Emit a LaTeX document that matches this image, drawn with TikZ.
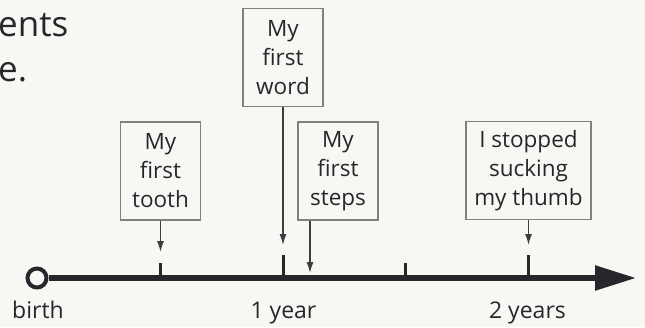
\documentclass[tikz,border=0pt]{standalone}
\usepackage{fontspec}
\setmainfont{Open Sans}
\usepackage{xcolor}
\usepackage{tikz}
\usetikzlibrary{arrows.meta}
\definecolor{paper}{HTML}{F8F7F4}
\definecolor{ink}{HTML}{26272B}
\definecolor{frame}{HTML}{808080}

\begin{document}
\begin{tikzpicture}[
    x=1pt, y=-1pt,
    font=\fontsize{22.5}{29}\selectfont, text=ink,
    event/.style={draw=frame, line width=1.8pt, fill=paper, align=center,
                  minimum width=80pt, minimum height=98pt, inner xsep=8pt},
    caption/.style={anchor=base west, inner sep=0pt, font=\fontsize{35}{45}\selectfont},
    pointer/.style={-{Latex[length=11pt,width=7pt]}, line width=1.4pt, ink!90},
    axis/.style={-{Triangle[length=41pt,width=24pt]}, line width=5.5pt, ink},
    tick/.style={line width=3pt, ink},
    agelabel/.style={anchor=base, font=\fontsize{23}{26}\selectfont},
  ]
    \fill[paper] (0,0) rectangle (645,327);
    \useasboundingbox (0,0) rectangle (645,327);

    \node[caption] (cap1) at (-2,36) {ents};
    \node[caption] (cap2) at (-2,81) {e.};

    \node[event] (word)  at (283,57.5)    {My\\first\\word};
    \node[event] (tooth) at (160.5,171)   {My\\first\\tooth};
    \node[event] (steps) at (338,171)     {My\\first\\steps};
    \node[event] (thumb) at (528.5,170.5) {I stopped\\sucking\\my thumb};

    \node[circle, draw=ink, line width=4pt, fill=paper, minimum size=19pt, inner sep=0pt] (start) at (37,278) {};
    \coordinate (axisend) at (636,278);
    \draw[axis] (start.east) -- (axisend);

    \foreach \x/\top in {160.5/263, 283/255, 405/263, 528.5/255}
      \draw[tick] (\x,278) -- (\x,\top);

    \coordinate (toothtip) at (160.5,252);
    \coordinate (wordtip)  at (283,245);
    \coordinate (stepstip) at (310,273);
    \coordinate (thumbtip) at (528.5,245);

    \draw[pointer] (tooth) -- (toothtip);
    \draw[pointer] (word)  -- (wordtip);
    \draw[pointer] (steps.south -| stepstip) -- (stepstip);
    \draw[pointer] (thumb) -- (thumbtip);

    \node[agelabel] (birth) at (38,318)    {birth};
    \node[agelabel] (year1) at (283.5,318) {1 year};
    \node[agelabel] (year2) at (527.5,318) {2 years};
  \end{tikzpicture}
\end{document}
